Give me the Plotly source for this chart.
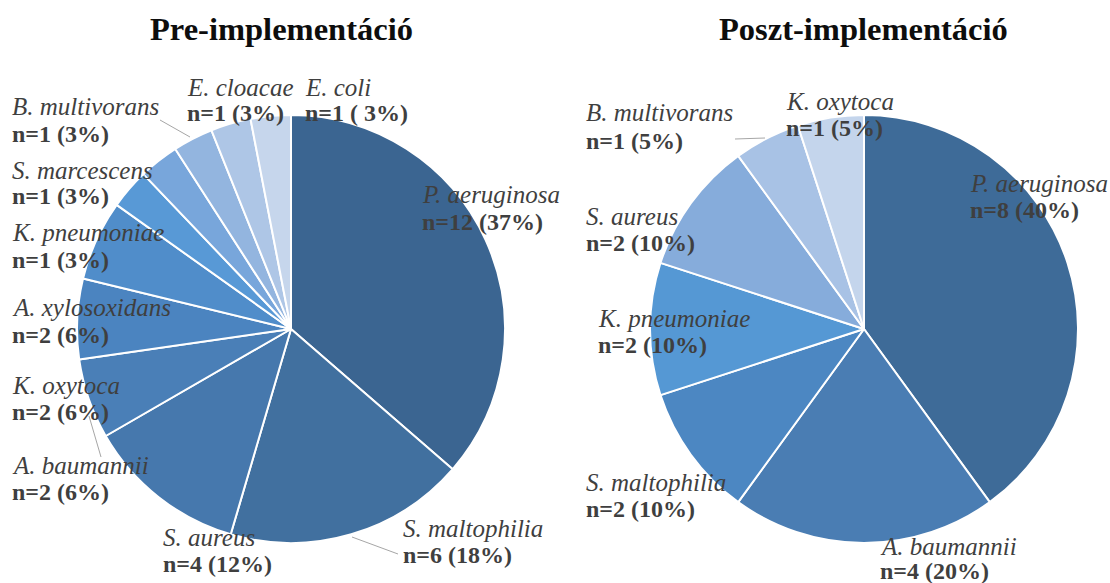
import plotly.graph_objects as go

W, H = 1110, 583

# ---------------- data ----------------
pre_species = ["P. aeruginosa", "S. maltophilia", "S. aureus", "A. baumannii", "K. oxytoca",
               "A. xylosoxidans", "K. pneumoniae", "S. marcescens", "B. multivorans",
               "E. cloacae", "E. coli"]
pre_counts = [12, 6, 4, 2, 2, 2, 1, 1, 1, 1, 1]
pre_text = ["n=12 (37%)", "n=6 (18%)", "n=4 (12%)", "n=2 (6%)", "n=2 (6%)", "n=2 (6%)",
            "n=1 (3%)", "n=1 (3%)", "n=1 (3%)", "n=1 (3%)", "n=1 ( 3%)"]

post_species = ["P. aeruginosa", "A. baumannii", "S. maltophilia", "K. pneumoniae",
                "S. aureus", "B. multivorans", "K. oxytoca"]
post_counts = [8, 4, 2, 2, 2, 1, 1]
post_text = ["n=8 (40%)", "n=4 (20%)", "n=2 (10%)", "n=2 (10%)", "n=2 (10%)",
             "n=1 (5%)", "n=1 (5%)"]

titles = ["Pre-implementáció", "Poszt-implementáció"]

# ---------------- styles ----------------
pre_colors = ["#3b6591", "#41709f", "#4678ad", "#4a7fb7", "#4b84c0", "#508dca",
              "#5899d6", "#78a6db", "#93b5df", "#aec6e6", "#c6d6ec"]
post_colors = ["#3e6b98", "#4a7db3", "#4c87c2", "#5598d4", "#86acdb", "#a8c2e5", "#c4d5ec"]

# label positions in pixels: (x_left, y_line1_center, y_line2_center)
pre_label_pos = [(420, 195, 222), (401, 528, 555), (161, 537, 564), (10, 465, 492),
                 (10, 385, 412), (10, 307, 335), (10, 233, 260), (10, 170, 196),
                 (10, 107, 134), (185, 87, 113), (303, 87, 113)]
post_label_pos = [(968, 183, 210), (878, 546, 571), (584, 482, 509), (596, 318, 345),
                  (584, 217, 243), (584, 113, 141), (784, 101, 128)]

leader_lines = [((160, 120), (190, 137)), ((89, 416), (101, 457)),
                ((352, 537), (398, 554)), ((735, 139), (765, 138))]

R = 214
centers = [(291, 329), (864, 329)]


def px(x):
    return x / W


def py(y):
    return 1 - y / H


fig = go.Figure()
for (cx, cy), sp, cnt, cols in [(centers[0], pre_species, pre_counts, pre_colors),
                                (centers[1], post_species, post_counts, post_colors)]:
    fig.add_trace(go.Pie(
        labels=sp, values=cnt, sort=False, direction="clockwise", rotation=0,
        textinfo="none", hoverinfo="label+value+percent",
        marker=dict(colors=cols, line=dict(color="white", width=2)),
        domain=dict(x=[px(cx - R), px(cx + R)], y=[py(cy + R), py(cy - R)]),
        showlegend=False,
    ))

annotations = []
label_font = "Liberation Serif"
for sp, txt, pos in list(zip(pre_species, pre_text, pre_label_pos)) + \
        list(zip(post_species, post_text, post_label_pos)):
    x, y1, y2 = pos
    annotations.append(dict(x=px(x), y=py(y1), xref="paper", yref="paper",
                            xanchor="left", yanchor="middle", showarrow=False,
                            text="<i>" + sp + "</i>",
                            font=dict(family=label_font, size=25, color="#3f3f3f")))
    annotations.append(dict(x=px(x), y=py(y2), xref="paper", yref="paper",
                            xanchor="left", yanchor="middle", showarrow=False,
                            text="<b>" + txt + "</b>",
                            font=dict(family=label_font, size=24, color="#3f3f3f")))

for t, xc in zip(titles, [281, 863]):
    annotations.append(dict(x=px(xc), y=py(29), xref="paper", yref="paper",
                            xanchor="center", yanchor="middle", showarrow=False,
                            text="<b>" + t + "</b>",
                            font=dict(family=label_font, size=32.5, color="#0d0d0d")))

shapes = [dict(type="line", xref="paper", yref="paper",
               x0=px(a[0]), y0=py(a[1]), x1=px(b[0]), y1=py(b[1]),
               line=dict(color="#a6a6a6", width=1)) for a, b in leader_lines]

fig.update_layout(width=W, height=H, margin=dict(l=0, r=0, t=0, b=0),
                  paper_bgcolor="white", plot_bgcolor="white",
                  font=dict(family=label_font),
                  annotations=annotations, shapes=shapes)

fig.write_html("out.html", config={"displayModeBar": False},
               post_script="document.body.style.margin='0';document.body.style.overflow='hidden';")
